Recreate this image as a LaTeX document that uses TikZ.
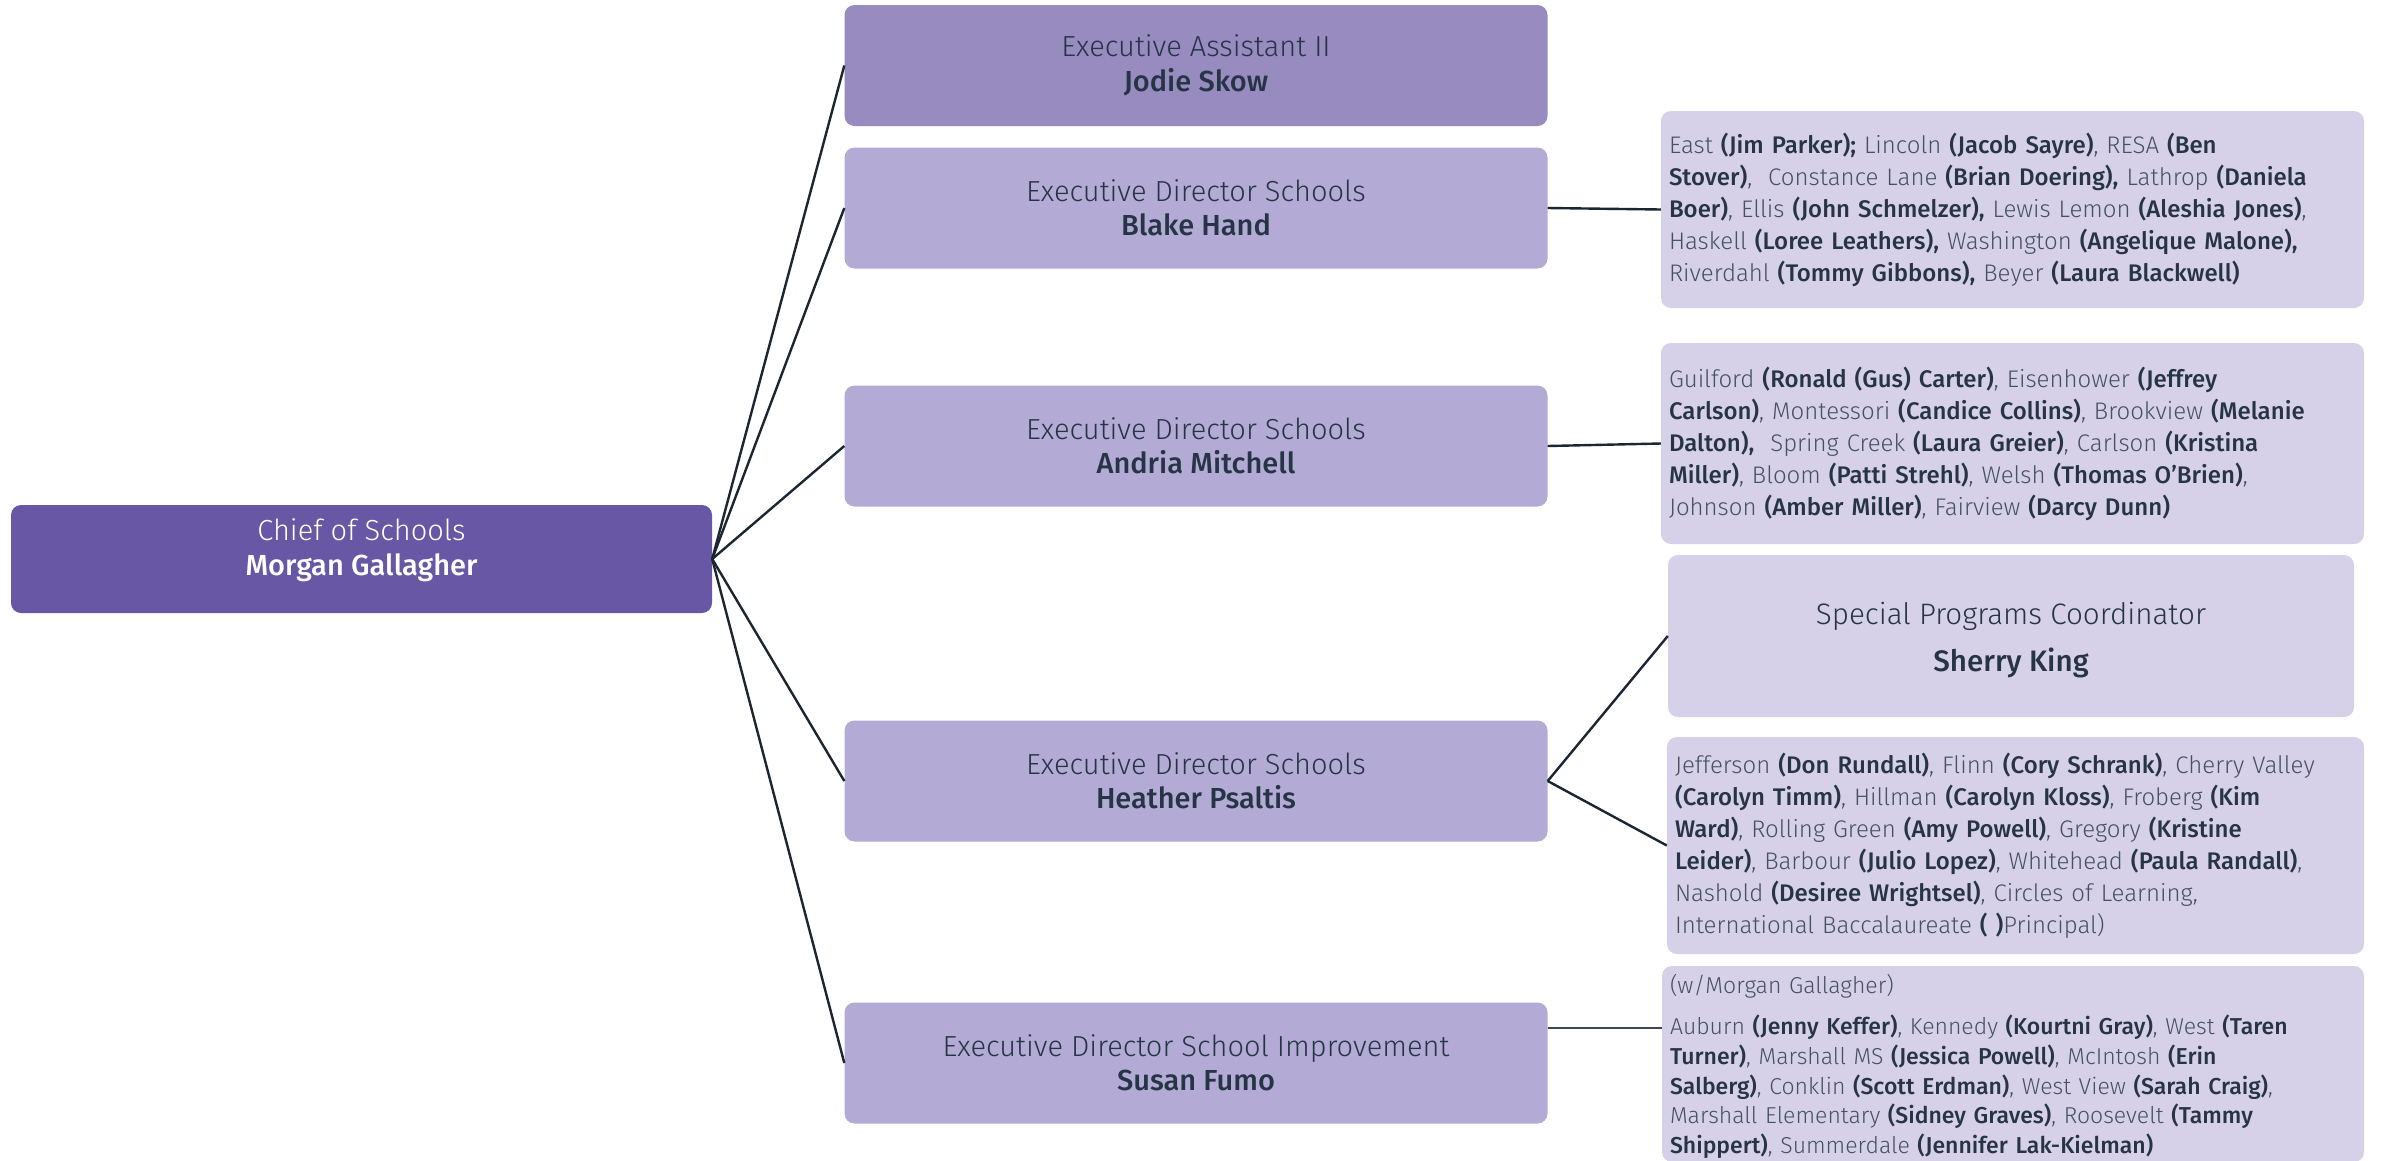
\documentclass[tikz,border=0pt]{standalone}
\usepackage{fontspec}
\setmainfont{Fira Sans Light}[BoldFont={Fira Sans Medium}]
\definecolor{chiefc}{HTML}{6857A5}
\definecolor{asstc}{HTML}{978BC0}
\definecolor{dirc}{HTML}{B3ABD5}
\definecolor{listc}{HTML}{D6D1E8}
\definecolor{ink}{HTML}{263445}
\definecolor{soft}{HTML}{46525F}
\definecolor{linec}{HTML}{1B2631}
\newcommand\nm[1]{\textcolor{ink}{\textbf{#1}}}
\newcommand\dirfont{\fontsize{29}{34.5}\selectfont}
\newcommand\listfont{\fontsize{24}{32}\selectfont}
\newcommand\smlistfont{\fontsize{23}{29.6}\selectfont}
\newcommand\spfont{\fontsize{29.6}{47}\selectfont}
\tikzset{
  box/.style={rectangle, rounded corners=10pt, inner sep=0pt, text=ink},
  chiefbox/.style={box, fill=chiefc, text=white, minimum width=701pt, minimum height=108pt, align=center, font=\dirfont, text depth=24pt},
  dirbox/.style={box, fill=dirc, minimum width=703pt, minimum height=121pt, align=center, font=\dirfont},
  asstbox/.style={dirbox, fill=asstc},
  spbox/.style={box, fill=listc, minimum width=686pt, minimum height=162pt, align=center, font=\spfont},
  listbox/.style={box, fill=listc, text width=687pt, inner xsep=8pt, align=left, font=\listfont, text=soft},
  link/.style={draw=linec, line width=2.4pt},
}
\begin{document}
\begin{tikzpicture}[x=1pt,y=-1pt]
\useasboundingbox (0,0) rectangle (2381,1160);
\fill[white] (0,0) rectangle (2381,1160);

\node[chiefbox] (chief) at (361.5,559) {Chief of Schools\\\textbf{Morgan Gallagher}};

\node[asstbox] (jodie) at (1196,65.5) {Executive Assistant II\\\textbf{Jodie Skow}};
\node[dirbox] (blake) at (1196,208) {Executive Director Schools\\\textbf{Blake Hand}};
\node[dirbox] (andria) at (1196,446) {Executive Director Schools\\\textbf{Andria Mitchell}};
\node[dirbox] (heather) at (1196,781) {Executive Director Schools\\\textbf{Heather Psaltis}};
\node[dirbox] (susan) at (1196,1063) {Executive Director School Improvement\\\textbf{Susan Fumo}};

\node[listbox, minimum height=197pt] (blakeS) at (2012.5,209.5) {East \nm{(Jim Parker);} Lincoln \nm{(Jacob Sayre)}, RESA \nm{(Ben}\\
\nm{Stover)},\ \ Constance Lane \nm{(Brian Doering),} Lathrop \nm{(Daniela}\\
\nm{Boer)}, Ellis \nm{(John Schmelzer),} Lewis Lemon \nm{(Aleshia Jones)},\\
Haskell \nm{(Loree Leathers),} Washington \nm{(Angelique Malone),}\\
Riverdahl \nm{(Tommy Gibbons),} Beyer \nm{(Laura Blackwell)}};

\node[listbox, minimum height=201pt] (andriaS) at (2012.5,443.5) {Guilford \nm{(Ronald (Gus) Carter)}, Eisenhower \nm{(Jeffrey}\\
\nm{Carlson)}, Montessori \nm{(Candice Collins)}, Brookview \nm{(Melanie}\\
\nm{Dalton),}\ \ Spring Creek \nm{(Laura Greier)}, Carlson \nm{(Kristina}\\
\nm{Miller)}, Bloom \nm{(Patti Strehl)}, Welsh \nm{(Thomas O’Brien)},\\
Johnson \nm{(Amber Miller)}, Fairview \nm{(Darcy Dunn)}};

\node[spbox] (sherry) at (2011,636) {\rule{0pt}{31pt}Special Programs Coordinator\\\textbf{Sherry King}};

\node[listbox, text width=681pt, minimum height=217pt] (heatherS) at (2015.5,845.5) {Jefferson \nm{(Don Rundall)}, Flinn \nm{(Cory Schrank)}, Cherry Valley\\
\nm{(Carolyn Timm)}, Hillman \nm{(Carolyn Kloss)}, Froberg \nm{(Kim}\\
\nm{Ward)}, Rolling Green \nm{(Amy Powell)}, Gregory \nm{(Kristine}\\
\nm{Leider)}, Barbour \nm{(Julio Lopez)}, Whitehead \nm{(Paula Randall)},\\
Nashold \nm{(Desiree Wrightsel)}, Circles of Learning,\\
International Baccalaureate \nm{( )}Principal)};

\node[listbox, text width=686pt, minimum height=196pt, font=\smlistfont] (susanS) at (2013,1064) {\rule{0pt}{24pt}(w/Morgan Gallagher)\\[11.4pt]
Auburn \nm{(Jenny Keffer)}, Kennedy \nm{(Kourtni Gray)}, West \nm{(Taren}\\
\nm{Turner)}, Marshall MS \nm{(Jessica Powell)}, McIntosh \nm{(Erin}\\
\nm{Salberg)}, Conklin \nm{(Scott Erdman)}, West View \nm{(Sarah Craig)},\\
Marshall Elementary \nm{(Sidney Graves)}, Roosevelt \nm{(Tammy}\\
\nm{Shippert)}, Summerdale \nm{(Jennifer Lak-Kielman)}};

\coordinate (susanJoin) at (susanS.west |- 0,1028);

\draw[link] (chief.east) -- (jodie.west);
\draw[link] (chief.east) -- (blake.west);
\draw[link] (chief.east) -- (andria.west);
\draw[link] (chief.east) -- (heather.west);
\draw[link] (chief.east) -- (susan.west);
\draw[link] (blake.east) -- (blakeS.west);
\draw[link] (andria.east) -- (andriaS.west);
\draw[link] (heather.east) -- (sherry.west);
\draw[link] (heather.east) -- (heatherS.west);
\draw[link, line width=2pt, draw=linec!85] (susan.east |- susanJoin) -- (susanJoin);
\end{tikzpicture}
\end{document}
